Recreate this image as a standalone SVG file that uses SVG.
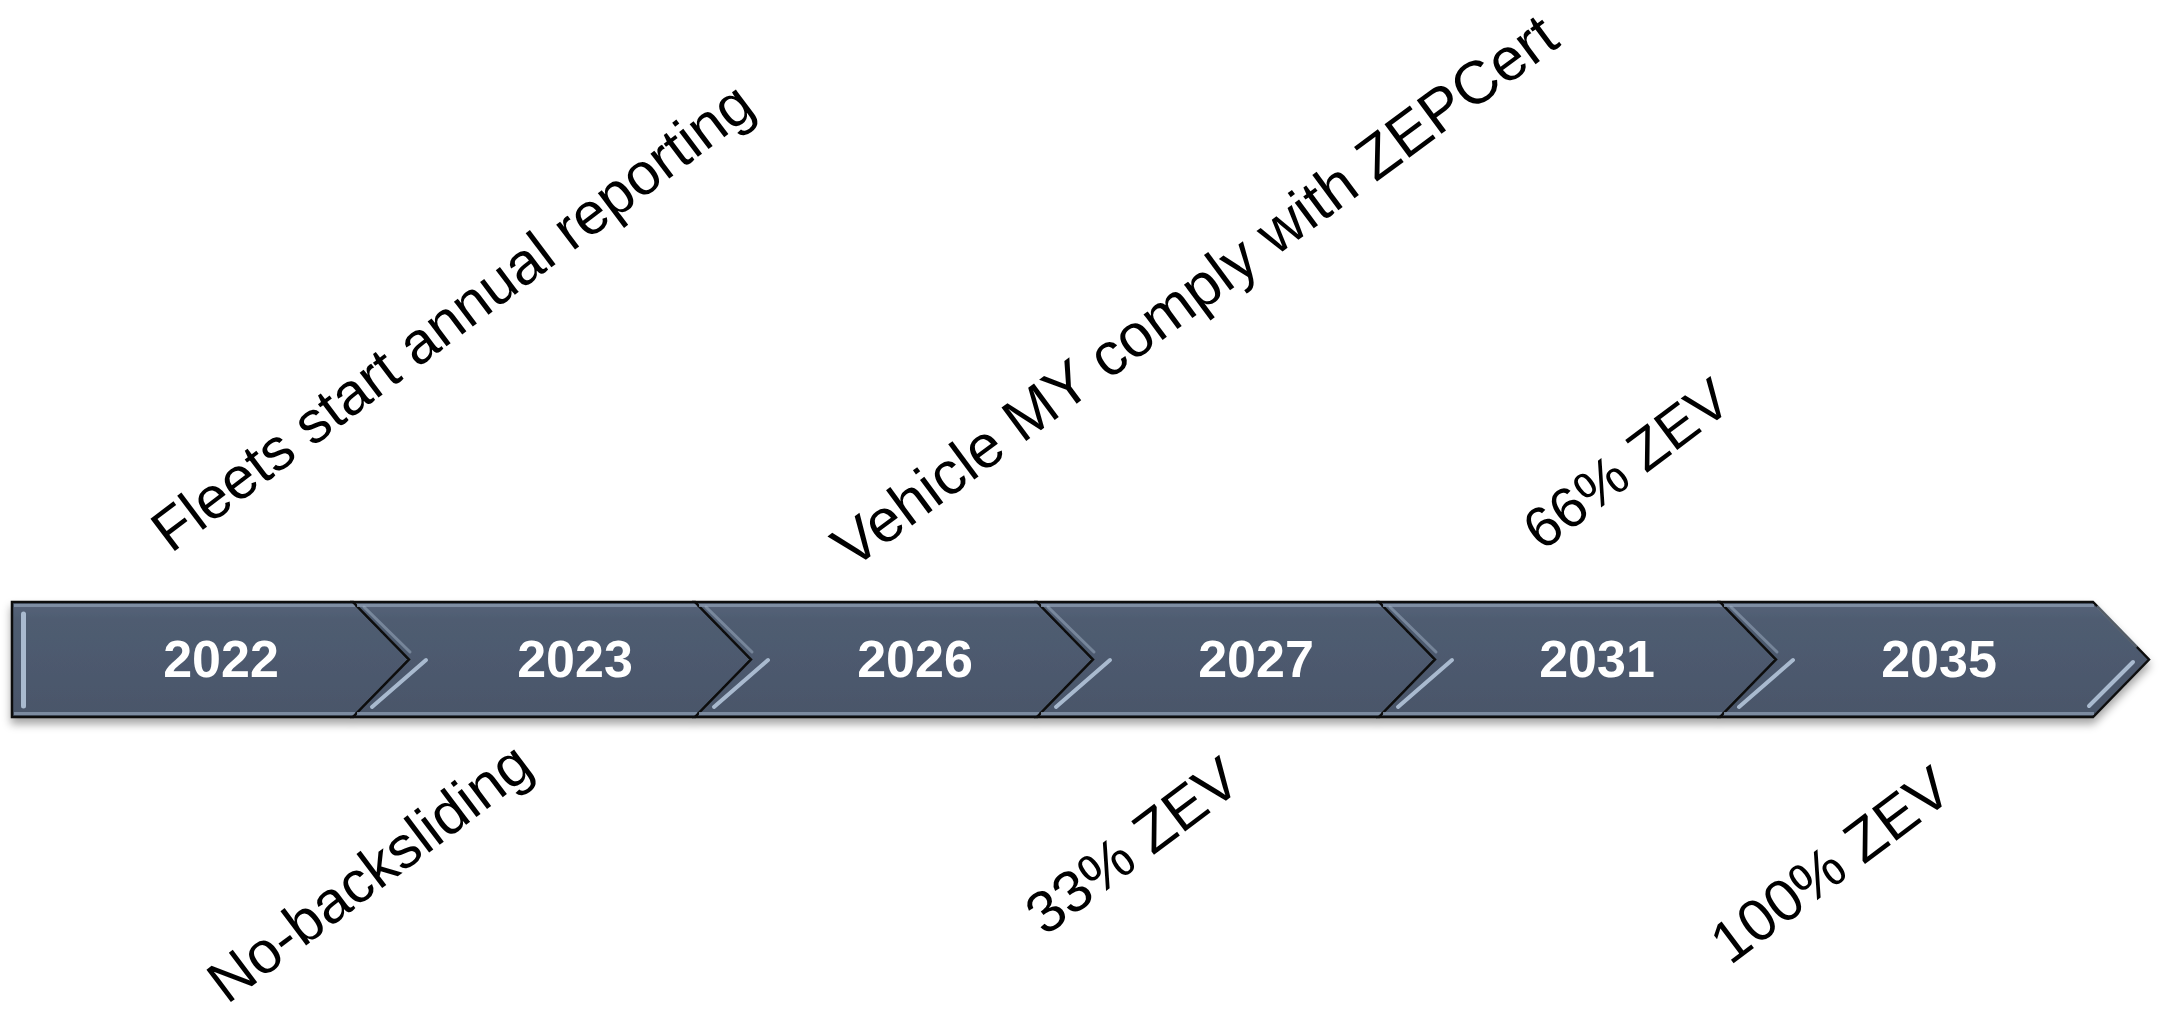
<svg xmlns="http://www.w3.org/2000/svg" width="2164" height="1012" viewBox="0 0 2164 1012">
  <defs>
    <linearGradient id="segFill" x1="0" y1="0" x2="0" y2="1">
      <stop offset="0" stop-color="#56647a"/>
      <stop offset="0.15" stop-color="#4f5c71"/>
      <stop offset="1" stop-color="#4a566a"/>
    </linearGradient>
    <filter id="shadow" x="-5%" y="-20%" width="110%" height="150%">
      <feDropShadow dx="0" dy="6" stdDeviation="4" flood-color="#000" flood-opacity="0.35"/>
    </filter>
  </defs>
  <style>
    .seg { fill: url(#segFill); stroke: #111; stroke-width: 2.5; stroke-linejoin: miter; }
    .hl { fill: none; stroke: #a9bacf; stroke-linecap: round; }
    .hl-soft { fill: none; stroke: #8898ae; stroke-width: 3; opacity: 0.8; }
    .year { font-family: "Liberation Sans", Arial, sans-serif; font-weight: bold; font-size: 52px; fill: #ffffff; text-anchor: middle; }
    .label { font-family: "Liberation Sans", Arial, sans-serif; font-size: 59px; fill: #000000; }
  </style>
  <rect width="2164" height="1012" fill="#ffffff"/>

  <g id="timeline" filter="url(#shadow)">
    <g id="seg-2022">
      <polygon class="seg" points="12,602 353,602 409,659.5 353,717 12,717"/>
      <line class="hl-soft" x1="14" y1="605.5" x2="355" y2="605.5"/>
      <line class="hl-soft" x1="14" y1="713.5" x2="355" y2="713.5"/>
      <line class="hl" x1="23.5" y1="614" x2="23.5" y2="706" stroke-width="5"/>
      <text class="year" x="221" y="677">2022</text>
    </g>
    <g id="seg-2023">
      <polygon class="seg" points="353,602 695,602 751,659.5 695,717 353,717 409,659.5"/>
      <line class="hl-soft" x1="357" y1="605.5" x2="697" y2="605.5"/>
      <line class="hl-soft" x1="357" y1="713.5" x2="697" y2="713.5"/>
      <path class="hl" d="M372,707 L426,660" stroke-width="4"/>
      <path class="hl" d="M364,607 L410,652" stroke-width="3" opacity="0.45"/>
      <text class="year" x="575" y="677">2023</text>
    </g>
    <g id="seg-2026">
      <polygon class="seg" points="695,602 1037,602 1093,659.5 1037,717 695,717 751,659.5"/>
      <line class="hl-soft" x1="699" y1="605.5" x2="1039" y2="605.5"/>
      <line class="hl-soft" x1="699" y1="713.5" x2="1039" y2="713.5"/>
      <path class="hl" d="M714,707 L768,660" stroke-width="4"/>
      <path class="hl" d="M706,607 L752,652" stroke-width="3" opacity="0.45"/>
      <text class="year" x="915" y="677">2026</text>
    </g>
    <g id="seg-2027">
      <polygon class="seg" points="1037,602 1379,602 1435,659.5 1379,717 1037,717 1093,659.5"/>
      <line class="hl-soft" x1="1041" y1="605.5" x2="1381" y2="605.5"/>
      <line class="hl-soft" x1="1041" y1="713.5" x2="1381" y2="713.5"/>
      <path class="hl" d="M1056,707 L1110,660" stroke-width="4"/>
      <path class="hl" d="M1048,607 L1094,652" stroke-width="3" opacity="0.45"/>
      <text class="year" x="1256" y="677">2027</text>
    </g>
    <g id="seg-2031">
      <polygon class="seg" points="1379,602 1720,602 1776,659.5 1720,717 1379,717 1435,659.5"/>
      <line class="hl-soft" x1="1383" y1="605.5" x2="1722" y2="605.5"/>
      <line class="hl-soft" x1="1383" y1="713.5" x2="1722" y2="713.5"/>
      <path class="hl" d="M1398,707 L1452,660" stroke-width="4"/>
      <path class="hl" d="M1390,607 L1436,652" stroke-width="3" opacity="0.45"/>
      <text class="year" x="1597" y="677">2031</text>
    </g>
    <g id="seg-2035">
      <polygon class="seg" points="1720,602 2093,602 2149,659.5 2093,717 1720,717 1776,659.5"/>
      <line class="hl-soft" x1="1724" y1="605.5" x2="2094" y2="605.5"/>
      <line class="hl-soft" x1="1724" y1="713.5" x2="2094" y2="713.5"/>
      <path class="hl" d="M1739,707 L1793,660" stroke-width="4"/>
      <path class="hl" d="M1731,607 L1777,652" stroke-width="3" opacity="0.45"/>
      <path class="hl" d="M2089,706 L2133,662" stroke-width="4"/>
      <path class="hl" d="M2098,607 L2136,646" stroke-width="3" opacity="0.45"/>
      <text class="year" x="1939" y="677">2035</text>
    </g>
  </g>

  <g id="label-fleets">
    <text class="label" transform="translate(171,554) rotate(-37)">Fleets start annual reporting</text>
  </g>
  <g id="label-vehicle">
    <text class="label" transform="translate(852,570) rotate(-36.5)" style="font-size:60.5px">Vehicle MY comply with ZEPCert</text>
  </g>
  <g id="label-66">
    <text class="label" transform="translate(1542,552) rotate(-37)" style="font-size:57px">66% ZEV</text>
  </g>
  <g id="label-nobacksliding">
    <text class="label" transform="translate(227,1005) rotate(-37)">No-backsliding</text>
  </g>
  <g id="label-33">
    <text class="label" transform="translate(1045,937) rotate(-37)">33% ZEV</text>
  </g>
  <g id="label-100">
    <text class="label" transform="translate(1730,966) rotate(-37)">100% ZEV</text>
  </g>
</svg>
